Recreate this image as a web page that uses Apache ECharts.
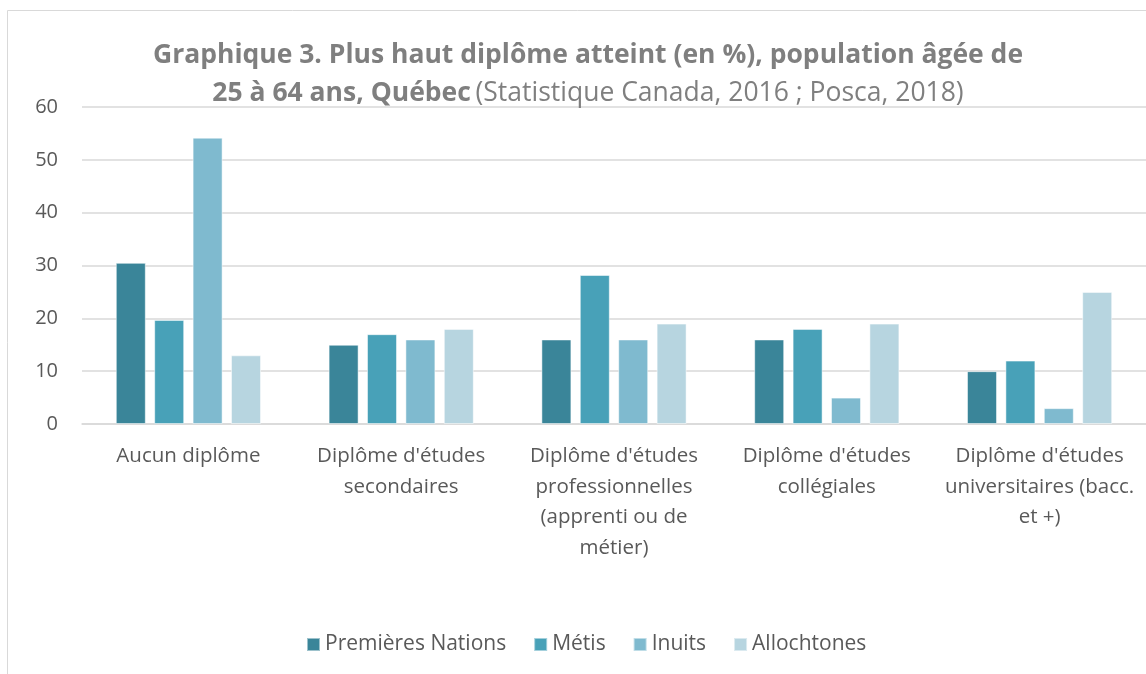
<!DOCTYPE html>
<html><head><meta charset="utf-8">
<script src="https://cdn.jsdelivr.net/npm/echarts@6/dist/echarts.min.js"></script>
<style>html,body{margin:0;padding:0;background:#fff}#c{width:1146px;height:674px}</style>
</head><body><div id="c"></div>
<script>
const categories = ["Aucun diplôme", "Diplôme d'études\nsecondaires", "Diplôme d'études\nprofessionnelles\n(apprenti ou de\nmétier)", "Diplôme d'études\ncollégiales", "Diplôme d'études\nuniversitaires (bacc.\net +)"];
const seriesNames = ["Premières Nations", "Métis", "Inuits", "Allochtones"];
const premieresNations = [30.5, 15, 16, 16, 10];
const metis = [19.7, 17, 28.2, 18, 12];
const inuits = [54.2, 16, 16, 5, 3];
const allochtones = [13, 18, 19, 19, 25];
const colors = ["#3a8599", "#48a1b8", "#7fbacf", "#b7d5e0"];
const values = [premieresNations, metis, inuits, allochtones];
const FONT = "Open Sans";

const chart = echarts.init(document.getElementById('c'));
chart.setOption({
  animation: false,
  textStyle: { fontFamily: FONT },
  graphic: [{ type: 'rect', shape: { x: 7.5, y: 10.5, width: 1200, height: 700 }, style: { fill: 'none', stroke: '#d9d9d9', lineWidth: 1 }, silent: true }],
  title: {
    left: 583, top: 31, textAlign: 'center',
    text: '{b|Graphique 3. Plus haut diplôme atteint (en %), population âgée de}\n{b|25 à 64 ans, Québec} {n|(Statistique Canada, 2016 ; Posca, 2018)}',
    textStyle: {
      rich: {
        b: { fontFamily: FONT, fontWeight: 'bold', fontSize: 26.5, color: '#7f7f7f', lineHeight: 38 },
        n: { fontFamily: FONT, fontWeight: 'normal', fontSize: 26.5, color: '#7f7f7f', lineHeight: 38 }
      }
    }
  },
  legend: {
    left: 306, top: 634, padding: 0, itemWidth: 13, itemHeight: 13, itemGap: 27, icon: 'rect',
    textStyle: { fontFamily: FONT, fontSize: 21, color: '#595959' },
    data: seriesNames
  },
  grid: { left: 82, right: 0, top: 107, bottom: 250, containLabel: false },
  xAxis: {
    type: 'category', data: categories,
    axisLine: { lineStyle: { color: '#d9d9d9', width: 1.5 } },
    axisTick: { show: false },
    axisLabel: { fontFamily: FONT, fontSize: 20.5, color: '#595959', lineHeight: 30.5, margin: 17, interval: 0 }
  },
  yAxis: {
    type: 'value', min: 0, max: 60, interval: 10,
    axisLine: { show: false }, axisTick: { show: false },
    splitLine: { lineStyle: { color: '#d9d9d9', width: 1.5 } },
    axisLabel: { fontFamily: FONT, fontSize: 20, color: '#595959', margin: 24 }
  },
  series: seriesNames.map((n, i) => ({
    name: n, type: 'bar', data: values[i],
    barWidth: 30, barGap: '28%', barCategoryGap: '31%',
    itemStyle: { color: colors[i], borderColor: 'rgba(255,255,255,0.5)', borderWidth: 1 }
  }))
});
</script></body></html>
